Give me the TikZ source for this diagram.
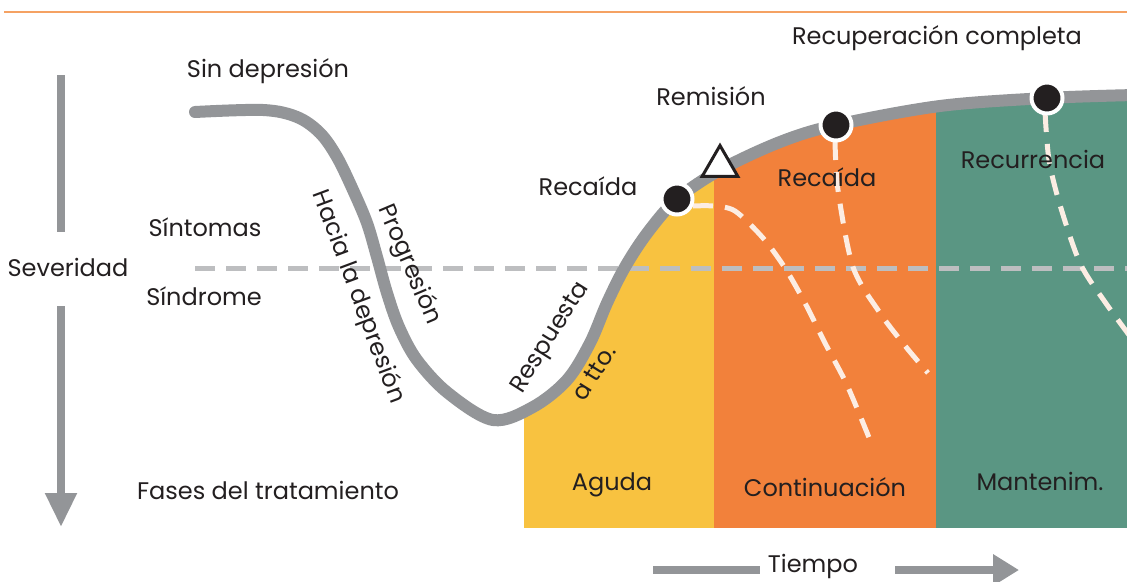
\documentclass[tikz,border=0pt]{standalone}
\usepackage{fontspec}
\setmainfont{Poppins}
\usetikzlibrary{arrows.meta,shapes.geometric}
\definecolor{ink}{HTML}{231F20}
\definecolor{curvegray}{HTML}{939598}
\definecolor{dashgray}{HTML}{BDBEC0}
\definecolor{yel}{HTML}{F8C240}
\definecolor{ora}{HTML}{F2813B}
\definecolor{grn}{HTML}{5A9683}
\definecolor{topline}{HTML}{F5A263}
\definecolor{cream}{HTML}{FCEDE3}
\begin{document}
\begin{tikzpicture}[x=1pt,y=-1pt,
  txt/.style={text=ink,font=\fontsize{24}{28}\selectfont,inner sep=0pt},
  gbar/.style={draw=curvegray,line width=8pt},
  hdash/.style={draw=dashgray,line width=5pt,dash pattern=on 20pt off 11pt},
  wdash/.style={draw=cream,line width=5pt,dash pattern=on 20pt off 12pt},
  curvestyle/.style={draw=curvegray,line width=12pt,line cap=round},
  dot/.style={circle,fill=ink,draw=white,line width=4pt,minimum size=31pt,inner sep=0pt},
  tri/.style={regular polygon,regular polygon sides=3,draw=ink,fill=white,line width=3pt,minimum size=41pt,inner sep=0pt}]
\useasboundingbox (0,0) rectangle (1127,581);
\fill[white] (0,0) rectangle (1127,581);
\def\curvepts{(195,112) (263,110) (297,117) (320,133) (337,157) (353,190) (367,223) (377,257) (387,293) (399,327) (417,360) (448,393) (493,420) (533,407) (567,380) (590,343) (607,303) (625,267) (648,232) (677,199) (720,170) (780,142) (836,125) (940,106) (1047,98) (1135,95)}
\draw[topline,line width=2pt] (4,12) -- (1127,12);
% coloured phases under the curve
\begin{scope}
\clip plot[smooth,tension=0.55] coordinates {\curvepts} -- (1140,540) -- (190,540) -- cycle;
\fill[yel] (524,0) rectangle (714,528);
\fill[ora] (714,0) rectangle (936,528);
\fill[grn] (936,0) rectangle (1140,528);
\end{scope}
% threshold line
\coordinate (th-a) at (195,268);
\coordinate (th-b) at (1135,268);
\draw[hdash] (th-a) -- (th-b);
% main curve
\draw[curvestyle] plot[smooth,tension=0.55] coordinates {\curvepts};
% relapse / recurrence paths
\draw[wdash] plot[smooth,tension=0.5] coordinates {(693,206) (713,206) (735,211) (763,238) (785,268) (805,303) (825,343) (847,385) (870,440)};
\draw[wdash] plot[smooth,tension=0.5] coordinates {(835,140) (838,190) (853,267) (880,313) (906,347) (928,373)};
\draw[wdash] plot[smooth,tension=0.5] coordinates {(1045,112) (1049,160) (1060,205) (1080,263) (1105,302) (1135,343)};
% markers
\node[dot] (d1) at (677,199) {};
\node[dot] (d2) at (836,125) {};
\node[dot] (d3) at (1047,98) {};
\node[tri] (rem) at (720,166) {};
% labels
\node[txt] (reccomp) at (937,38) {Recuperación completa};
\node[txt] (sindep) at (268,71) {Sin depresión};
\node[txt] (remis) at (711,96) {Remisión};
\node[txt] (recaida1) at (588,186) {Recaída};
\node[txt] (recaida2) at (827,177) {Recaída};
\node[txt] (recurr) at (1033,159) {Recurrencia};
\node[txt] (sint) at (205,227) {Síntomas};
\node[txt] (sev) at (68,267) {Severidad};
\node[txt] (sind) at (204,296) {Síndrome};
\node[txt] (fases) at (268,490) {Fases del tratamiento};
\node[txt] (aguda) at (612,485) {Aguda};
\node[txt] (cont) at (825,487) {Continuación};
\node[txt] (mant) at (1040,481) {Mantenim.};
\node[txt] (tiempo) at (813,566) {Tiempo};
\node[txt,rotate=-69.5] (hacia) at (358,297) {Hacia la depresión};
\node[txt,rotate=-67] (prog) at (409,265) {Progresión};
\node[txt,rotate=58] (resp) at (551,338) {Respuesta};
\node[txt,rotate=58] (atto) at (594,373) {a tto.};
% severity axis
\coordinate (sv-a) at (61,75);
\coordinate (sv-b) at (61,232);
\coordinate (sv-c) at (61,306);
\coordinate (sv-d) at (61,527);
\draw[gbar] (sv-a) -- (sv-b);
\draw[gbar,-{Triangle[width=30pt,length=34pt]}] (sv-c) -- (sv-d);
% time axis
\coordinate (tm-a) at (653,570);
\coordinate (tm-b) at (760,570);
\coordinate (tm-c) at (895,570);
\coordinate (tm-d) at (1019,570);
\draw[gbar] (tm-a) -- (tm-b);
\draw[gbar,-{Triangle[width=30pt,length=26pt]}] (tm-c) -- (tm-d);
\end{tikzpicture}
\end{document}
